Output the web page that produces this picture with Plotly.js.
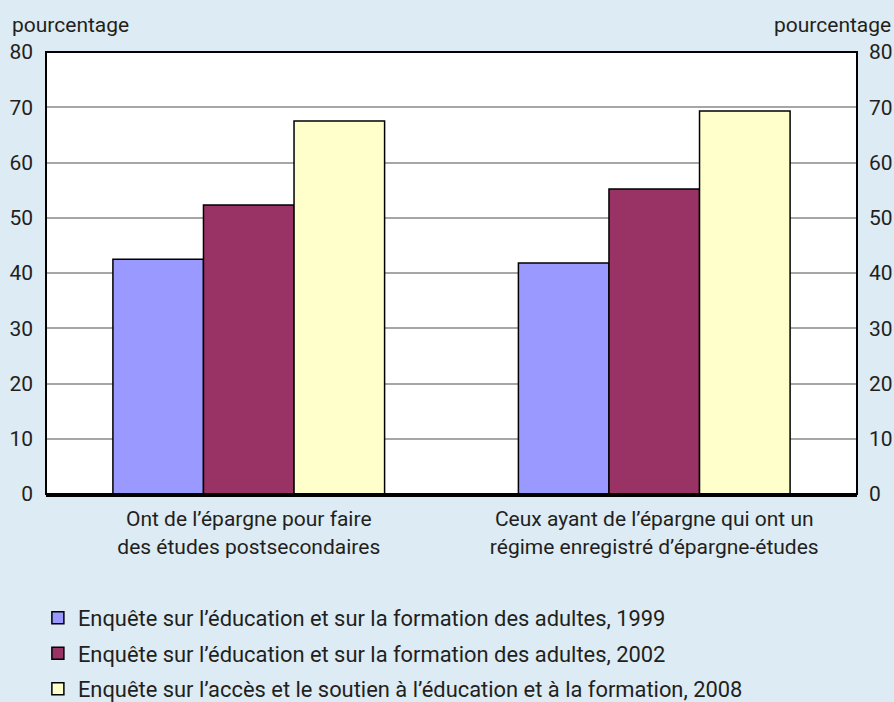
<!DOCTYPE html>
<html><head><meta charset="utf-8">
<script src="https://cdn.plot.ly/plotly-3.0.1.min.js"></script>
<style>html,body{margin:0;padding:0;background:#dcebf4;}#chart{width:894px;height:702px;}</style>
</head><body><div id="chart"></div>
<script>
const categories = ["Ont de l’épargne pour faire<br>des études postsecondaires", "Ceux ayant de l’épargne qui ont un<br>régime enregistré d’épargne-études"];
const seriesNames = ["Enquête sur l’éducation et sur la formation des adultes, 1999", "Enquête sur l’éducation et sur la formation des adultes, 2002", "Enquête sur l’accès et le soutien à l’éducation et à la formation, 2008"];
const values1999 = [42.5, 41.8];
const values2002 = [52.3, 55.2];
const values2008 = [67.5, 69.3];
const colors = ["#9999ff", "#993366", "#ffffcc"];
const yTicks = [0, 10, 20, 30, 40, 50, 60, 70, 80];

const FONT = "Roboto, sans-serif";
const NARROW = "Liberation Sans Narrow, Roboto, sans-serif";
const allVals = [values1999, values2002, values2008];
const traces = allVals.map((v, i) => ({
  type: "bar", x: categories, y: v, name: seriesNames[i], legendgroup: "g" + i,
  marker: {color: colors[i], line: {color: "#000", width: 1.5}}, hoverinfo: "skip"
}));
traces.push({type: "scatter", mode: "markers", x: categories, y: [null, null], yaxis: "y2", showlegend: false, hoverinfo: "skip"});

const layout = {
  width: 894, height: 702,
  paper_bgcolor: "#dcebf4", plot_bgcolor: "#ffffff",
  margin: {l: 46, r: 37, t: 52, b: 208, autoexpand: false},
  barmode: "group", bargap: 0.33, bargroupgap: 0,
  font: {family: FONT, size: 21, color: "#231f20"},
  xaxis: {type: "category", showline: true, linecolor: "#000", linewidth: 3, ticks: "", tickfont: {size: 21}, fixedrange: true, automargin: false, tickangle: 0, ticklabelstandoff: 4},
  yaxis: {range: [0, 80], tickvals: yTicks, showgrid: true, gridcolor: "#a6a6a6", gridwidth: 2, zeroline: false, showline: false, ticks: "", ticklabelstandoff: 12, tickfont: {family: NARROW, size: 21}, automargin: false},
  yaxis2: {range: [0, 80], tickvals: yTicks, overlaying: "y", side: "right", showgrid: false, zeroline: false, showline: false, ticks: "", ticklabelstandoff: 11, tickfont: {family: NARROW, size: 21}, automargin: false},
  showlegend: true,
  legend: {orientation: "v", x: -0.01, xanchor: "left", y: -0.233, yanchor: "top", bgcolor: "rgba(0,0,0,0)", font: {size: 21.9}, tracegroupgap: 4, traceorder: "grouped"},
  shapes: [{type: "rect", xref: "paper", yref: "paper", x0: 0, x1: 1, y0: 0, y1: 1, line: {color: "#000", width: 2}, layer: "above"}],
  annotations: [
    {text: "pourcentage", xref: "paper", yref: "paper", x: -0.044, y: 1.03, xanchor: "left", yanchor: "bottom", showarrow: false, font: {size: 21}},
    {text: "pourcentage", xref: "paper", yref: "paper", x: 1.045, y: 1.03, xanchor: "right", yanchor: "bottom", showarrow: false, font: {size: 21}}
  ]
};
Plotly.newPlot("chart", traces, layout, {displayModeBar: false, staticPlot: true});
</script></body></html>
